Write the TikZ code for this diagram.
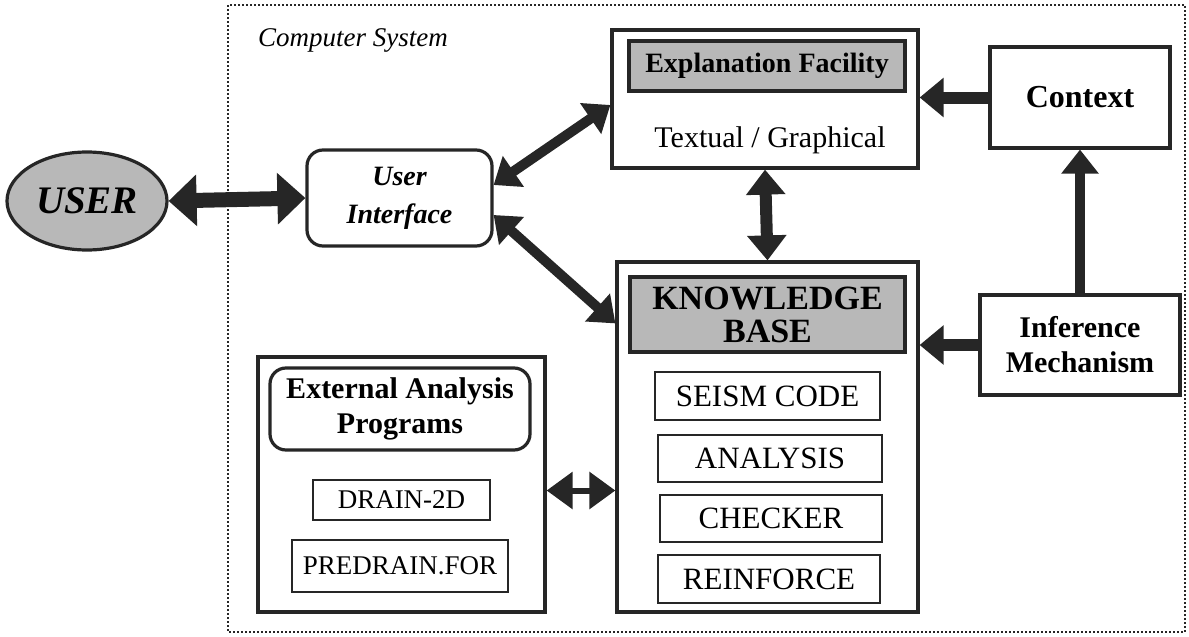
\documentclass[tikz,border=0pt]{standalone}
\usepackage{fontspec}
\setmainfont{Liberation Serif}
\usetikzlibrary{arrows.meta,shapes.geometric}
\begin{document}
\begin{tikzpicture}[x=0.5pt,y=-0.5pt,
  outerbox/.style={draw=black!85, line width=1.6pt, inner sep=0pt, fill=white},
  shadebox/.style={draw=black!85, line width=2.2pt, fill=black!28, inner sep=0pt, align=center, font=\fontsize{14}{16}\selectfont\bfseries},
  subbox/.style={draw=black!85, line width=1.2pt, inner sep=0pt, fill=white, font=\fontsize{13.5}{16}\selectfont},
  kbsub/.style={subbox, font=\fontsize{15.5}{18}\selectfont},
  boldlabel/.style={align=center, font=\fontsize{15}{17.5}\selectfont\bfseries},
  duo/.style={draw=black!85, line width=5pt, {Triangle[length=12pt,width=18pt]}-{Triangle[length=12pt,width=18pt]}},
  uni/.style={draw=black!85, line width=5pt, -{Triangle[length=12pt,width=18pt]}}
]
\useasboundingbox (0,0) rectangle (1189,637);
% computer system frame
\draw[black!85, line width=1.3pt, dash pattern=on 1pt off 1pt] (228,5) rectangle (1185,632);
\node[anchor=west, font=\itshape\fontsize{13.5}{16}\selectfont] (cs) at (251,40) {Computer System};

% user
\node[ellipse, draw=black!85, line width=1.6pt, fill=black!28, minimum width=80pt, minimum height=49pt, inner sep=0pt,
      font=\fontsize{19.5}{22}\selectfont\bfseries\itshape] (user) at (87,201) {USER};

% user interface
\node[outerbox, rounded corners=8pt, minimum width=92.5pt, minimum height=48pt, align=center,
      font=\fontsize{14}{19}\selectfont\bfseries\itshape] (ui) at (399.5,198) {User\\Interface};

% explanation facility
\node[outerbox, minimum width=153pt, minimum height=69pt] (expl) at (765,99) {};
\node[shadebox, minimum width=138pt, minimum height=25pt] (explh) at (767,66) {Explanation Facility};
\node[font=\fontsize{15}{18}\selectfont] (tg) at (770,140) {Textual / Graphical};

% context
\node[outerbox, minimum width=90pt, minimum height=50.5pt, boldlabel, font=\fontsize{16}{18}\selectfont\bfseries] (ctx) at (1080,97.5) {Context};

% inference
\node[outerbox, minimum width=100pt, minimum height=50pt, boldlabel] (inf) at (1080,345) {Inference\\Mechanism};

% knowledge base
\node[outerbox, minimum width=150.5pt, minimum height=175pt] (kb) at (767.5,437) {};
\node[shadebox, minimum width=137.5pt, minimum height=37.5pt, font=\fontsize{17}{16.5}\selectfont\bfseries] (kbh) at (767.5,314.5) {KNOWLEDGE\\BASE};
\node[kbsub, minimum width=112.5pt, minimum height=24pt] (seism) at (767.5,396) {SEISM CODE};
\node[kbsub, minimum width=112pt, minimum height=23.5pt] (anal) at (770,458.5) {ANALYSIS};
\node[kbsub, minimum width=111pt, minimum height=23.5pt] (check) at (771,518.5) {CHECKER};
\node[kbsub, minimum width=111pt, minimum height=24pt] (reinf) at (769,579) {REINFORCE};

% external analysis programs
\node[outerbox, minimum width=143.5pt, minimum height=127.5pt] (ext) at (401.5,484.5) {};
\node[outerbox, rounded corners=8pt, minimum width=130pt, minimum height=41pt, boldlabel] (exth) at (400,409) {External Analysis\\Programs};
\node[subbox, minimum width=88.5pt, minimum height=20pt] (drain) at (401.5,500) {DRAIN-2D};
\node[subbox, minimum width=108pt, minimum height=26pt] (pre) at (400,566) {PREDRAIN.FOR};

% connectors
\draw[draw=black!85, line width=7.5pt, {Triangle[length=14pt,width=25pt]}-{Triangle[length=14pt,width=25pt]}] (user.east) -- (ui.west);
\draw[duo] ([yshift=6.5pt]ui.east) -- ([yshift=-3pt]expl.west);
\draw[duo] ([yshift=-8.5pt]ui.east) -- ([yshift=-31.5pt]kb.north west);
\draw[duo, line width=6pt, {Triangle[length=12.5pt,width=19pt]}-{Triangle[length=12.5pt,width=19pt]}] (expl.south) -- (kb.north);
\draw[uni, line width=6pt, -{Triangle[length=12pt,width=19pt]}] (ctx.west) -- (expl.east |- ctx.west);
\draw[uni] (inf.north) -- (ctx.south);
\draw[uni, line width=6pt, -{Triangle[length=12pt,width=19pt]}] (inf.west) -- (kb.east |- inf.west);
\draw[draw=black!85, line width=3pt, {Triangle[length=13pt,width=18pt]}-{Triangle[length=13pt,width=18pt]}] ([yshift=-3pt]ext.east) -- ([yshift=-3pt]kb.west |- ext.east);
\end{tikzpicture}
\end{document}
